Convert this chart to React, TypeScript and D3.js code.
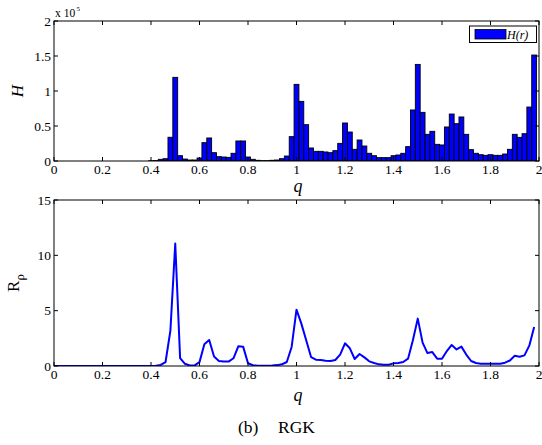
import React from "react";
import * as d3 from "d3";

// q grid (bin centres): 0, 0.02, ..., 1.98
const qValues: number[] = d3.range(100).map((i) => +(i * 0.02).toFixed(2));

// H(r) values in units of 1e5
const hValues: number[] = [
  0, 0, 0, 0, 0, 0, 0, 0, 0, 0,
  0, 0, 0, 0, 0, 0, 0, 0, 0, 0,
  0.003, 0.006, 0.024, 0.033, 0.339, 1.195, 0.076, 0.028, 0.014, 0.014,
  0.043, 0.262, 0.329, 0.119, 0.062, 0.057, 0.052, 0.11, 0.286, 0.286,
  0.057, 0.024, 0.01, 0.005, 0.005, 0.01, 0.014, 0.033, 0.071, 0.348,
  1.095, 0.852, 0.519, 0.186, 0.138, 0.138, 0.129, 0.119, 0.148, 0.252,
  0.543, 0.414, 0.167, 0.3, 0.214, 0.11, 0.076, 0.048, 0.048, 0.048,
  0.076, 0.086, 0.11, 0.205, 0.729, 1.38, 0.695, 0.381, 0.424, 0.238,
  0.229, 0.486, 0.671, 0.533, 0.629, 0.381, 0.162, 0.11, 0.09, 0.081,
  0.09, 0.081, 0.081, 0.1, 0.167, 0.381, 0.338, 0.39, 0.771, 1.514,
];

// R_rho values
const rValues: number[] = [
  0, 0, 0, 0, 0, 0, 0, 0, 0, 0,
  0, 0, 0, 0, 0, 0, 0, 0, 0, 0,
  0.01, 0.03, 0.1, 0.36, 3.2, 11.06, 0.72, 0.2, 0.05, 0.05,
  0.35, 1.96, 2.35, 0.85, 0.45, 0.4, 0.4, 0.7, 1.78, 1.75,
  0.25, 0.07, 0.03, 0.03, 0.03, 0.05, 0.08, 0.15, 0.36, 1.72,
  5.09, 3.83, 2.32, 0.81, 0.57, 0.54, 0.48, 0.45, 0.54, 1.03,
  2.05, 1.6, 0.63, 1.08, 0.78, 0.42, 0.27, 0.15, 0.12, 0.12,
  0.24, 0.27, 0.36, 0.66, 2.32, 4.28, 2.11, 1.17, 1.26, 0.66,
  0.66, 1.35, 1.9, 1.5, 1.75, 1.03, 0.45, 0.27, 0.21, 0.21,
  0.21, 0.21, 0.21, 0.3, 0.5, 0.93, 0.84, 0.96, 1.84, 3.52,
];

const xTicks: number[] = [0, 0.2, 0.4, 0.6, 0.8, 1, 1.2, 1.4, 1.6, 1.8, 2];
const hTicks: number[] = [0, 0.5, 1, 1.5, 2];
const rTicks: number[] = [0, 5, 10, 15];

const W = 542;
const H = 445;
const FONT = "Liberation Serif, DejaVu Serif, serif";

const left = 54;
const right = 539;
const top1 = 21;
const bot1 = 161;
const top2 = 200;
const bot2 = 366;

const fmt = (v: number) => String(v);

function Frame({ x, y, xt, yt, tickLen = 4 }: any) {
  const [x0, x1] = x.range();
  const [y0, y1] = y.range();
  return (
    <g>
      <rect x={x0} y={y1} width={x1 - x0} height={y0 - y1} fill="none" stroke="#000" strokeWidth={1} />
      {xt.map((t: number) => (
        <g key={"x" + t}>
          <line x1={x(t)} x2={x(t)} y1={y0} y2={y0 - tickLen} stroke="#000" />
          <line x1={x(t)} x2={x(t)} y1={y1} y2={y1 + tickLen} stroke="#000" />
          <text x={x(t)} y={y0 + 13} textAnchor="middle" fontSize={13.5} style={{ fontFamily: FONT }}>
            {fmt(t)}
          </text>
        </g>
      ))}
      {yt.map((t: number) => (
        <g key={"y" + t}>
          <line x1={x0} x2={x0 + tickLen} y1={y(t)} y2={y(t)} stroke="#000" />
          <line x1={x1} x2={x1 - tickLen} y1={y(t)} y2={y(t)} stroke="#000" />
          <text x={x0 - 3} y={y(t) + 4.5} textAnchor="end" fontSize={13.5} style={{ fontFamily: FONT }}>
            {fmt(t)}
          </text>
        </g>
      ))}
    </g>
  );
}

export default function App() {
  const x = d3.scaleLinear().domain([0, 2]).range([left, right]);
  const yH = d3.scaleLinear().domain([0, 2]).range([bot1, top1]);
  const yR = d3.scaleLinear().domain([0, 15]).range([bot2, top2]);
  const bw = x(0.02) - x(0);

  const line = d3
    .line<number>()
    .x((_, i) => x(qValues[i]))
    .y((d) => yR(d));

  const tf = { fontFamily: FONT };

  return (
    <svg width={W} height={H} style={{ position: "absolute", left: 0, top: 0, background: "#fff" }}>
      <rect width={W} height={H} fill="#fff" />
      <defs>
        <clipPath id="c1">
          <rect x={left} y={top1} width={right - left} height={bot1 - top1} />
        </clipPath>
        <clipPath id="c2">
          <rect x={left} y={top2} width={right - left} height={bot2 - top2} />
        </clipPath>
      </defs>
      {/* top histogram */}
      <g clipPath="url(#c1)">
        {hValues.map((v, i) =>
          v > 0 ? (
            <rect
              key={i}
              x={x(qValues[i]) - bw / 2}
              y={yH(v)}
              width={bw}
              height={yH(0) - yH(v)}
              fill="#0000ff"
              stroke="#000"
              strokeWidth={0.9}
            />
          ) : null
        )}
      </g>
      <Frame x={x} y={yH} xt={xTicks} yt={hTicks} />
      <text x={55} y={17} fontSize={11.5} style={tf}>
        x 10
      </text>
      <text x={76.5} y={11} fontSize={7} style={tf}>
        5
      </text>
      <text
        transform={`translate(23,${(top1 + bot1) / 2}) rotate(-90)`}
        textAnchor="middle"
        fontSize={17}
        fontStyle="italic"
        style={tf}
      >
        H
      </text>
      <text x={298} y={192} textAnchor="middle" fontSize={18} fontStyle="italic" style={tf}>
        q
      </text>
      {/* legend */}
      <rect x={469.5} y={26} width={67} height={16.5} fill="#fff" stroke="#000" strokeWidth={1} />
      <rect x={475} y={29.5} width={31} height={9.5} fill="#0000ff" stroke="#000" strokeWidth={0.8} />
      <text x={507} y={38.5} fontSize={12} fontStyle="italic" style={tf}>
        H(r)
      </text>

      {/* bottom line chart */}
      <g clipPath="url(#c2)">
        <path d={line(rValues) || ""} fill="none" stroke="#0000ff" strokeWidth={2} strokeLinejoin="round" />
      </g>
      <Frame x={x} y={yR} xt={xTicks} yt={rTicks} />
      <text
        transform={`translate(19,${(top2 + bot2) / 2}) rotate(-90)`}
        textAnchor="middle"
        fontSize={17}
        style={tf}
      >
        R<tspan fontSize={13} dy={5}>ρ</tspan>
      </text>
      <text x={298} y={401} textAnchor="middle" fontSize={18} fontStyle="italic" style={tf}>
        q
      </text>
      <text x={238} y={433} fontSize={17.5} style={tf}>
        (b)
      </text>
      <text x={278} y={433} fontSize={17.5} style={tf}>
        RGK
      </text>
    </svg>
  );
}
